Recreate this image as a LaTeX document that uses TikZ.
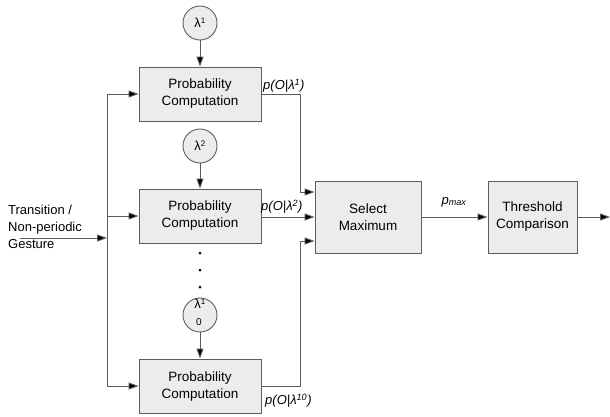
\documentclass[tikz,border=0pt]{standalone}
\usepackage{fontspec}
\setmainfont{Liberation Sans}
\usetikzlibrary{arrows.meta}
\definecolor{boxfill}{HTML}{ECECEC}
\definecolor{linegray}{HTML}{5C5C5C}
\begin{document}
\begin{tikzpicture}[x=1pt,y=-1pt,
  blk/.style={draw=linegray,fill=boxfill,line width=0.9pt,minimum width=122pt,minimum height=54pt,align=center,font=\fontsize{13.5}{17}\selectfont,inner sep=0pt},
  model/.style={circle,draw=linegray,fill=boxfill,line width=0.9pt,minimum size=34pt,inner sep=0pt,font=\fontsize{13}{15}\selectfont},
  wire/.style={draw=linegray,line width=0.9pt},
  arr/.style={wire,-{Triangle[length=10pt,width=7pt,fill=black]}},
  lab/.style={font=\fontsize{13}{15}\selectfont\itshape,inner sep=0pt},
  dot/.style={circle,fill=black,minimum size=3pt,inner sep=0pt}]
\useasboundingbox (0,0) rectangle (610,416);

% probability computation blocks
\node[blk] (pc1) at (200,94) {Probability\\Computation};
\node[blk] (pc2) at (200,216) {Probability\\Computation};
\node[blk] (pc3) at (200,386) {Probability\\Computation};

% models
\node[model] (m1) at (200,23) {λ\textsuperscript{\fontsize{8}{8}\selectfont 1}};
\node[model] (m2) at (200,146) {λ\textsuperscript{\fontsize{8}{8}\selectfont 2}};
\node[model] (m3) at (200,315) {};
\node[font=\fontsize{13}{15}\selectfont,inner sep=0pt] (m3a) at (200,304) {λ\textsuperscript{\fontsize{8}{8}\selectfont 1}};
\node[font=\fontsize{10}{12}\selectfont,inner sep=0pt] (m3b) at (199,322) {0};

\draw[arr] (m1) -- (pc1);
\draw[arr] (m2) -- (pc2);
\draw[arr] (m3) -- (pc3);

% dots
\node[dot] (d1) at (200,253) {};
\node[dot] (d2) at (200,270) {};
\node[dot] (d3) at (200,287) {};

% input
\node[align=left,anchor=west,font=\fontsize{13}{17}\selectfont,inner sep=0pt] (in) at (8,227) {Transition /\\Non-periodic\\Gesture};
\coordinate (instart) at (20,238);
\coordinate (bus) at (107,238);
\coordinate (bustop) at (107,94);
\coordinate (busmid) at (107,216);
\coordinate (busbot) at (107,386);
\draw[arr] (instart) -- (bus);
\draw[wire] (bustop) -- (busbot);
\draw[arr] (bustop) -- (pc1.west);
\draw[arr] (busmid) -- (pc2.west);
\draw[arr] (busbot) -- (pc3.west);

% select maximum and threshold
\node[blk,minimum width=106pt,minimum height=72pt] (sel) at (368,217) {Select\\Maximum};
\node[blk,minimum width=89pt,minimum height=72pt] (thr) at (532.5,217) {Threshold\\Comparison};
\coordinate (out) at (610,217);

\coordinate (c1a) at (300,94);
\coordinate (c1b) at (300,192);
\coordinate (c3a) at (300,386);
\coordinate (c3b) at (300,241);
\draw[arr] (pc1.east) -- (c1a) -- (c1b) -- (sel.west |- c1b);
\draw[arr] (pc2.east |- sel.west) -- (sel.west);
\draw[arr] (pc3.east) -- (c3a) -- (c3b) -- (sel.west |- c3b);
\draw[arr] (sel.east) -- (thr.west);
\draw[arr] (thr.east) -- (out);

% labels
\node[lab,anchor=west] (l1) at (263,86) {p(O|λ\textsuperscript{1})};
\node[lab,anchor=west] (l2) at (261,207) {p(O|λ\textsuperscript{2})};
\node[lab,anchor=west] (l3) at (265,401) {p(O|λ\textsuperscript{10})};
\node[font=\fontsize{13}{15}\selectfont\itshape,inner sep=0pt] (lp) at (454,202) {p\textsubscript{\fontsize{9}{9}\selectfont max}};
\end{tikzpicture}
\end{document}
